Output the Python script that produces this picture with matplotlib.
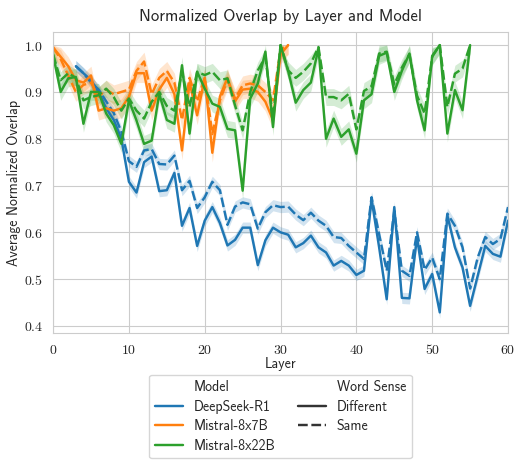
import numpy as np
import matplotlib
matplotlib.use("Agg")
import matplotlib.pyplot as plt
import seaborn as sns
from matplotlib.lines import Line2D
from matplotlib.ticker import FormatStrFormatter, MultipleLocator

sns.set_style("whitegrid")
plt.rcParams['font.family'] = ['cmss10', 'DejaVu Sans']
plt.rcParams['mathtext.fontset'] = 'cm'
plt.rcParams['axes.unicode_minus'] = False

models = ["DeepSeek-R1", "Mistral-8x7B", "Mistral-8x22B"]
senses = ["Different", "Same"]

# DeepSeek-R1: layers 3..60 (first layers dense)
ds_layers = list(range(3, 61))
ds_diff = [0.955, 0.94, 0.925, 0.90, 0.865, 0.84, 0.80, 0.708, 0.685, 0.75,
           0.762, 0.688, 0.69, 0.727, 0.614, 0.652, 0.571, 0.625, 0.654, 0.62,
           0.572, 0.584, 0.61, 0.61, 0.53, 0.583, 0.61, 0.6, 0.595, 0.568,
           0.577, 0.593, 0.568, 0.557, 0.529, 0.539, 0.529, 0.509, 0.518, 0.671,
           0.568, 0.457, 0.654, 0.46, 0.459, 0.589, 0.479, 0.511, 0.429, 0.636,
           0.568, 0.525, 0.443, 0.507, 0.571, 0.554, 0.548, 0.625]
ds_same = [0.955, 0.94, 0.92, 0.905, 0.88, 0.855, 0.815, 0.752, 0.74, 0.775,
           0.778, 0.746, 0.745, 0.764, 0.69, 0.71, 0.652, 0.675, 0.708, 0.69,
           0.616, 0.655, 0.664, 0.66, 0.608, 0.643, 0.658, 0.654, 0.655, 0.638,
           0.626, 0.642, 0.625, 0.614, 0.59, 0.588, 0.571, 0.557, 0.543, 0.675,
           0.596, 0.518, 0.646, 0.518, 0.507, 0.6, 0.52, 0.546, 0.5, 0.64,
           0.614, 0.568, 0.48, 0.546, 0.59, 0.575, 0.586, 0.654]

# Mistral-8x7B: layers 0..31
m7_layers = list(range(0, 32))
m7_diff = [0.995, 0.975, 0.955, 0.925, 0.92, 0.935, 0.86, 0.865, 0.86, 0.865,
           0.89, 0.94, 0.94, 0.86, 0.905, 0.93, 0.895, 0.775, 0.92, 0.85,
           0.93, 0.77, 0.89, 0.93, 0.88, 0.905, 0.907, 0.9, 0.879, 0.84,
           0.98, 1.0]
m7_same = [0.995, 0.97, 0.935, 0.9, 0.915, 0.92, 0.89, 0.905, 0.895, 0.9,
           0.905, 0.945, 0.965, 0.895, 0.93, 0.945, 0.92, 0.84, 0.93, 0.88,
           0.93, 0.81, 0.882, 0.925, 0.886, 0.914, 0.918, 0.914, 0.9, 0.882,
           0.99, 1.0]

# Mistral-8x22B: layers 0..55
m22_layers = list(range(0, 56))
m22_diff = [0.979, 0.9, 0.929, 0.932, 0.832, 0.9, 0.9, 0.854, 0.829, 0.789,
            0.882, 0.839, 0.789, 0.796, 0.896, 0.84, 0.832, 0.957, 0.811, 0.943,
            0.907, 0.875, 0.868, 0.821, 0.818, 0.689, 0.886, 0.918, 0.986, 0.825,
            1.0, 0.945, 0.877, 0.904, 0.92, 0.993, 0.8, 0.843, 0.804, 0.82,
            0.768, 0.882, 0.895, 0.977, 0.984, 0.9, 0.945, 0.982, 0.882, 0.818,
            0.977, 1.0, 0.811, 0.904, 0.861, 1.0]
m22_same = [0.98, 0.925, 0.94, 0.93, 0.882, 0.889, 0.893, 0.907, 0.889, 0.86,
            0.886, 0.86, 0.843, 0.879, 0.9, 0.87, 0.86, 0.943, 0.868, 0.943,
            0.936, 0.943, 0.925, 0.929, 0.871, 0.818, 0.9, 0.946, 0.975, 0.843,
            1.0, 0.946, 0.93, 0.943, 0.961, 0.996, 0.889, 0.889, 0.882, 0.896,
            0.82, 0.902, 0.912, 0.982, 0.986, 0.916, 0.952, 0.98, 0.892, 0.854,
            0.975, 1.0, 0.868, 0.939, 0.95, 1.0]

# half width of the confidence band per model
ci_half = [0.012, 0.02, 0.018]

colors = ["#1f77b4", "#ff7f0e", "#2ca02c"]
styles = {"Different": "-", "Same": (0, (4, 1.5))}

layers = [ds_layers, m7_layers, m22_layers]
values = [(ds_diff, ds_same), (m7_diff, m7_same), (m22_diff, m22_same)]

fig = plt.figure(figsize=(5.31, 4.68), dpi=100, facecolor="w")
ax = fig.add_axes([0.1, 0.2885, 0.8567, 0.6431])

for i, m in enumerate(models):
    x = np.array(layers[i])
    for j, s in enumerate(senses):
        y = np.array(values[i][j])
        ax.fill_between(x, y - ci_half[i], np.minimum(y + ci_half[i], 1.0),
                        color=colors[i], alpha=0.2, linewidth=0)
        ax.plot(x, y, color=colors[i], linestyle=styles[s], linewidth=1.75)

ax.set_xlim(0, 60)
ax.set_ylim(0.385, 1.028)
ax.xaxis.set_major_locator(MultipleLocator(10))
ax.yaxis.set_major_locator(MultipleLocator(0.1))
ax.xaxis.set_major_formatter(FormatStrFormatter("$%d$"))
ax.yaxis.set_major_formatter(FormatStrFormatter("$%.1f$"))
ax.tick_params(labelsize=10)
ax.set_xlabel("Layer", fontsize=10, labelpad=0)
ax.set_ylabel("Average Normalized Overlap", fontsize=10, labelpad=2)
ax.set_title("Normalized Overlap by Layer and Model", fontsize=12, pad=8)

blank = Line2D([], [], linestyle="none")
handles = [blank] + [Line2D([], [], color=c, linewidth=1.75) for c in colors] + \
          [blank] + [Line2D([], [], color="#333333", linestyle=styles[s], linewidth=1.75) for s in senses]
labels = ["Model"] + models + ["Word Sense"] + senses
ax.legend(handles, labels, loc="upper center", bbox_to_anchor=(0.5, -0.115),
          ncol=2, fontsize=10, frameon=True, columnspacing=1.6,
          labelspacing=0.4, handlelength=2.0)

fig.savefig("out.png", dpi=100)
